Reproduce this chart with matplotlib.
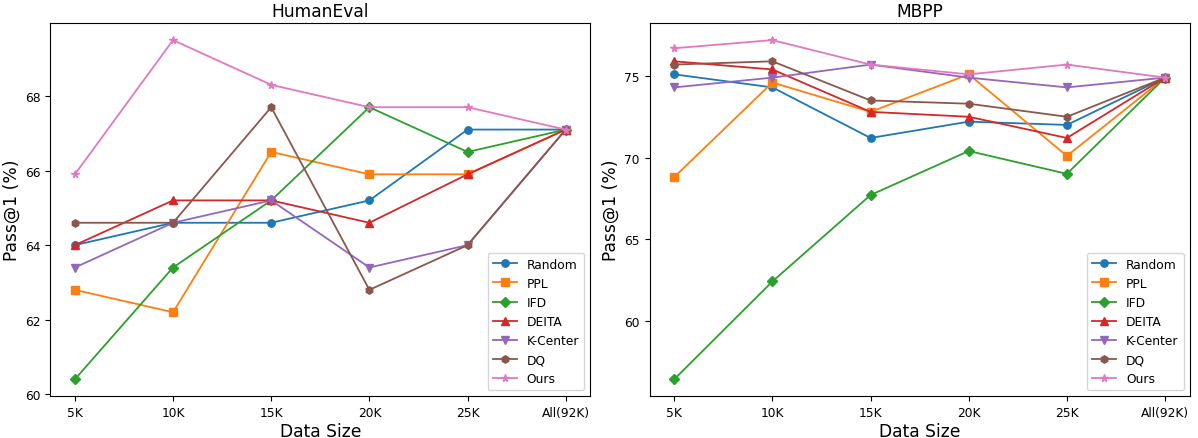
import matplotlib
matplotlib.use('Agg')
import matplotlib.pyplot as plt

sizes = ['5K', '10K', '15K', '20K', '25K', 'All(92K)']
methods = ['Random', 'PPL', 'IFD', 'DEITA', 'K-Center', 'DQ', 'Ours']
markers = ['o', 's', 'D', '^', 'v', 'h', '*']

# HumanEval pass@1
humaneval = {
    'Random':   [64.0, 64.6, 64.6, 65.2, 67.1, 67.1],
    'PPL':      [62.8, 62.2, 66.5, 65.9, 65.9, 67.1],
    'IFD':      [60.4, 63.4, 65.2, 67.7, 66.5, 67.1],
    'DEITA':    [64.0, 65.2, 65.2, 64.6, 65.9, 67.1],
    'K-Center': [63.4, 64.6, 65.2, 63.4, 64.0, 67.1],
    'DQ':       [64.6, 64.6, 67.7, 62.8, 64.0, 67.1],
    'Ours':     [65.9, 69.5, 68.3, 67.7, 67.7, 67.1],
}

# MBPP pass@1
mbpp = {
    'Random':   [75.1, 74.3, 71.2, 72.2, 72.0, 74.9],
    'PPL':      [68.8, 74.6, 72.8, 75.1, 70.1, 74.9],
    'IFD':      [56.4, 62.4, 67.7, 70.4, 69.0, 74.9],
    'DEITA':    [75.9, 75.4, 72.8, 72.5, 71.2, 74.9],
    'K-Center': [74.3, 74.9, 75.7, 74.9, 74.3, 74.9],
    'DQ':       [75.7, 75.9, 73.5, 73.3, 72.5, 74.9],
    'Ours':     [76.7, 77.2, 75.7, 75.1, 75.7, 74.9],
}

plt.rcParams['axes.linewidth'] = 0.8
plt.rcParams['xtick.labelsize'] = 8.8
plt.rcParams['ytick.labelsize'] = 8.8

fig, axes = plt.subplots(1, 2, figsize=(11.98, 4.39), dpi=100)
fig.subplots_adjust(left=0.042, right=0.993, bottom=0.095, top=0.945, wspace=0.11)

for ax, title, data in zip(axes, ['HumanEval', 'MBPP'], [humaneval, mbpp]):
    x = range(len(sizes))
    for m, mk in zip(methods, markers):
        ax.plot(x, data[m], marker=mk, label=m, markersize=5.3, linewidth=1.3)
    ax.set_xticks(list(x))
    ax.set_xticklabels(sizes)
    ax.set_title(title, fontsize=12.3, pad=5)
    ax.set_xlabel('Data Size', fontsize=12.3, labelpad=2)
    ax.set_ylabel('Pass@1 (%)', fontsize=12.3, labelpad=3)
    ax.legend(loc='lower right', fontsize=8.8)

axes[0].set_yticks([60, 62, 64, 66, 68])
axes[1].set_yticks([60, 65, 70, 75])

plt.savefig('out.png')
